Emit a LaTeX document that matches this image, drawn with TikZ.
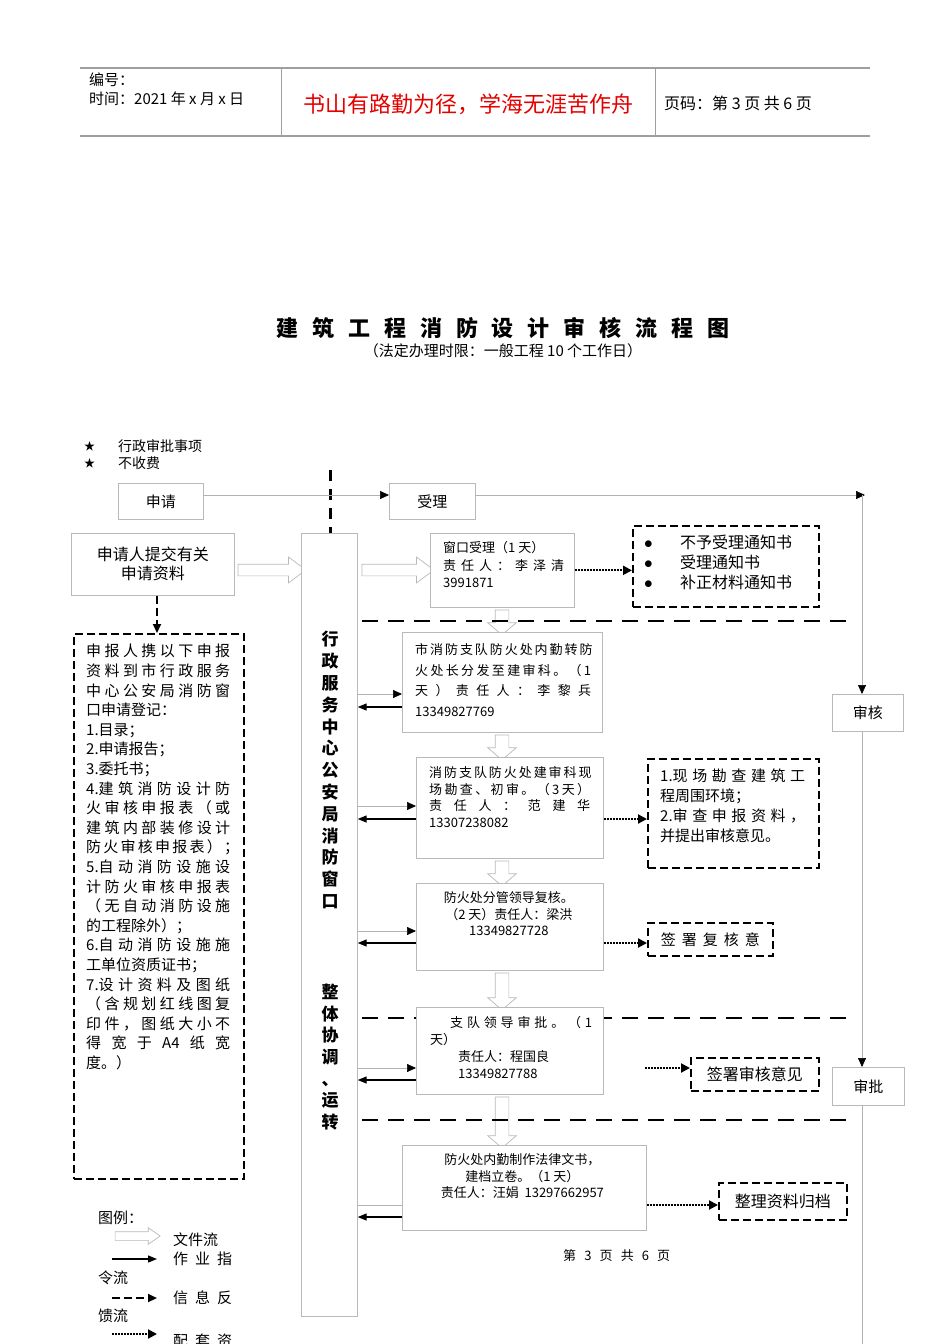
\documentclass[tikz,border=0pt]{standalone}
\usepackage{fontspec}
\setmainfont{Noto Sans CJK SC}
\usetikzlibrary{arrows.meta,shapes.arrows}

\newcommand\fsz[2]{\fontsize{#1}{#2}\selectfont}
\newcommand\jline[2]{\makebox[#1pt][s]{#2}}

\begin{document}
\begin{tikzpicture}[x=1pt,y=-1pt,>=Triangle,
  box/.style={draw=gray!55,line width=0.7pt,fill=white,inner sep=0pt,anchor=north west,font=\fsz{15}{19}},
  dashbox/.style={draw,line width=1.6pt,dash pattern=on 8pt off 4pt,fill=white,inner sep=0pt,anchor=north west,font=\fsz{16}{20}},
  boxtext/.style={anchor=north west,inner sep=0pt,align=left},
  sepline/.style={line width=2.6pt,dash pattern=on 16pt off 10pt},
  flow/.style={draw=gray!60,line width=0.7pt,-{Triangle[length=9pt,width=8pt,color=black]}},
  order/.style={line width=1.3pt,-{Triangle[length=9pt,width=7pt]}},
  feedback/.style={line width=2pt,dash pattern=on 8pt off 4pt,-{Triangle[length=9pt,width=8pt]}},
  support/.style={line width=2pt,dash pattern=on 1.8pt off 1.2pt,-{Triangle[length=9pt,width=9pt]}},
  fileright/.style={single arrow,draw=gray!55,fill=white,line width=0.7pt,inner xsep=0pt,inner ysep=5.5pt,
    single arrow head extend=7pt,single arrow tip angle=73},
  filedown/.style={fileright,rotate=-90,inner ysep=6.5pt,single arrow head extend=7.5pt,single arrow tip angle=99},
  note/.style={anchor=west,inner sep=0pt}
]
\useasboundingbox (0,0) rectangle (950,1344);

% page header
\draw[gray!75,line width=1.5pt] (80,68) -- (870,68);
\draw[gray!75,line width=1.5pt] (80,136) -- (870,136);
\draw[gray!75,line width=0.8pt] (281,68) -- (281,136) (655,68) -- (655,136);
\node[note,font=\fsz{15}{18}] (hcode) at (89,80) {编号：};
\node[note,font=\fsz{15}{18}] (hdate) at (89,99) {时间：2021 年 x 月 x 日};
\node[inner sep=0pt,font=\fsz{22}{24},text=red!90!black] (hmotto) at (468,104) {书山有路勤为径，学海无涯苦作舟};
\node[note,font=\fsz{16}{18}] (hpage) at (664,103) {页码：第 3 页 共 6 页};

% title
\node[inner sep=0pt,font=\fsz{22}{24}\bfseries] (title) at (503,328) {\jline{453}{建 筑 工 程 消 防 设 计 审 核 流 程 图}};
\node[inner sep=0pt,font=\fsz{15}{18}] (subtitle) at (503,351) {（法定办理时限：一般工程 10 个工作日）};

\node[note,font=\fsz{11}{13}] (star1) at (84,446) {★};
\node[note,font=\fsz{14}{16}] (item1) at (118,446) {行政审批事项};
\node[note,font=\fsz{11}{13}] (star2) at (84,463) {★};
\node[note,font=\fsz{14}{16}] (item2) at (118,463) {不收费};

\draw[line width=3pt,dash pattern=on 11pt off 8pt] (330,470) -- (330,533);

% top row
\node[box,minimum width=85,minimum height=36] (apply) at (118,483) {申请};
\node[box,minimum width=86,minimum height=36] (accept) at (389,483) {受理};
\node[box,minimum width=71,minimum height=37] (review) at (832,694) {审核};
\node[box,minimum width=72,minimum height=38] (approve) at (832,1067) {审批};
\coordinate (turn) at (862,495);
\coordinate (pagebottom) at (862,1344);
\draw[flow] (apply.east |- turn) -- (accept.west |- turn);
\draw[flow] (accept.east |- turn) -- ([xshift=3pt]turn);
\draw[flow] (turn) -- (turn |- review.north);
\draw[flow] (turn |- review.south) -- (turn |- approve.north);
\draw[draw=gray!60,line width=0.7pt] (turn |- approve.south) -- (pagebottom);

% file flow
\node[fileright,minimum height=68] (ff1) at (268,570) {};
\node[fileright,minimum height=72] (ff2) at (394,570) {};
\node[filedown,minimum height=25] (fd1) at (502,619.5) {};
\node[filedown,minimum height=25] (fd2) at (502,744.5) {};
\node[filedown,minimum height=25] (fd3) at (502,870.5) {};
\node[filedown,minimum height=37] (fd4) at (502,988.5) {};
\node[filedown,minimum height=51] (fd5) at (502,1119.5) {};

\draw[sepline] (362,621) -- (852,621);
\draw[sepline] (362,1018) -- (852,1018);
\draw[sepline] (362,1120) -- (852,1120);

% left side
\node[box,minimum width=163,minimum height=62,align=center,font=\fsz{16}{19}] (submit) at (71,533) {申请人提交有关\\申请资料};
\node[dashbox,minimum width=170,minimum height=545] (reqlist) at (73,633) {};
\draw[feedback] (submit.south -| 157,0) -- (reqlist.north -| 157,0);
\node[boxtext,font=\fsz{15}{19.6}] (reqtext) at (86,644) {%
\jline{144}{申 报 人 携 以 下 申 报}\\
\jline{144}{资 料 到 市 行 政 服 务}\\
\jline{144}{中 心 公 安 局 消 防 窗}\\
口申请登记：\\
1.目录；\\
2.申请报告；\\
3.委托书；\\
\jline{144}{4.建 筑 消 防 设 计 防}\\
\jline{144}{火 审 核 申 报 表 （ 或}\\
\jline{144}{建 筑 内 部 装 修 设 计}\\
\jline{144}{防 火 审 核 申 报 表 ） ；}\\
\jline{144}{5.自 动 消 防 设 施 设}\\
\jline{144}{计 防 火 审 核 申 报 表}\\
\jline{144}{（ 无 自 动 消 防 设 施}\\
的工程除外）；\\
\jline{144}{6.自 动 消 防 设 施 施}\\
工单位资质证书；\\
\jline{144}{7.设 计 资 料 及 图 纸}\\
\jline{144}{（ 含 规 划 红 线 图 复}\\
\jline{144}{印 件 ， 图 纸 大 小 不}\\
\jline{144}{得 宽 于 A4 纸 宽}\\
度。）};

% window column
\node[box,minimum width=56,minimum height=783] (window) at (301,533) {};
\node[inner sep=0pt,align=center,font=\fsz{17}{21.8}\bfseries] (coltop) at (330,770) {行\\政\\服\\务\\中\\心\\公\\安\\局\\消\\防\\窗\\口};
\node[inner sep=0pt,align=center,font=\fsz{17}{21.7}\bfseries] (colbot) at (330,1057) {整\\体\\协\\调\\、\\运\\转};

% steps
\node[box,minimum width=144,minimum height=74] (winrecv) at (430,533) {};
\node[boxtext,font=\fsz{13}{17.5}] at ([shift={(13,8.5)}]winrecv.north west) {窗口受理（1 天）\\\jline{121}{责 任 人 ： 李 泽 清}\\3991871};

\node[box,minimum width=200,minimum height=100] (transfer) at (402,632) {};
\node[boxtext,font=\fsz{13}{20.5}] at ([shift={(13,11.5)}]transfer.north west) {%
\jline{176}{市 消 防 支 队 防 火 处 内 勤 转 防}\\
\jline{176}{火 处 长 分 发 至 建 审 科 。 （ 1}\\
\jline{176}{天 ） 责 任 人 ： 李 黎 兵}\\
13349827769};

\node[box,minimum width=187,minimum height=101] (survey) at (416,757) {};
\node[boxtext,font=\fsz{13}{16.5}] at ([shift={(13,9.5)}]survey.north west) {%
\jline{161}{消 防 支 队 防 火 处 建 审 科 现}\\
\jline{161}{场 勘 查 、 初 审 。 （ 3 天 ）}\\
\jline{161}{责 任 人 ： 范 建 华}\\
13307238082};

\node[box,minimum width=187,minimum height=87] (recheck) at (416,883) {};
\node[boxtext,anchor=north,align=center,font=\fsz{13}{16.5}] at ([shift={(-1,8.5)}]recheck.north) {%
防火处分管领导复核。\\（2 天）责任人：梁洪\\13349827728};

\node[box,minimum width=187,minimum height=87] (approval) at (416,1007) {};
\node[boxtext,font=\fsz{13}{17}] at ([shift={(14,9.5)}]approval.north west) {%
\hspace*{20pt}\jline{142}{支 队 领 导 审 批 。 （ 1}\\
天）\\
\hspace*{28pt}责任人：程国良\\
\hspace*{28pt}13349827788};

\node[box,minimum width=244,minimum height=85] (filing) at (402,1145) {};
\node[boxtext,anchor=north,align=center,font=\fsz{13}{16.5}] at ([shift={(-2,8.5)}]filing.north) {%
防火处内勤制作法律文书，\\建档立卷。（1 天）\\责任人：汪娟\ \ 13297662957};

% column to steps
\draw[flow] (window.east |- 0,694) -- (transfer.west |- 0,694);
\draw[order] (transfer.west |- 0,707) -- (window.east |- 0,707);
\draw[flow] (window.east |- 0,806) -- (survey.west |- 0,806);
\draw[order] (survey.west |- 0,819) -- (window.east |- 0,819);
\draw[flow] (window.east |- 0,931) -- (recheck.west |- 0,931);
\draw[order] (recheck.west |- 0,943) -- (window.east |- 0,943);
\draw[flow] (window.east |- 0,1068) -- (approval.west |- 0,1068);
\draw[order] (approval.west |- 0,1080) -- (window.east |- 0,1080);
\draw[draw=gray!60,line width=0.7pt] (window.east |- 0,1205) -- (filing.west |- 0,1205);
\draw[order] (filing.west |- 0,1217) -- (window.east |- 0,1217);

% results
\node[dashbox,minimum width=186,minimum height=81] (notice) at (632,525) {};
\node[boxtext,font=\fsz{16}{20}] at ([shift={(12,10)}]notice.north west) {%
\makebox[36pt][l]{$\bullet$}不予受理通知书\\
\makebox[36pt][l]{$\bullet$}受理通知书\\
\makebox[36pt][l]{$\bullet$}补正材料通知书};
\node[dashbox,minimum width=171,minimum height=109] (fieldcheck) at (647,758) {};
\node[boxtext,font=\fsz{15}{20}] at ([shift={(13,10.5)}]fieldcheck.north west) {%
\jline{145}{1.现 场 勘 查 建 筑 工}\\
程周围环境；\\
\jline{145}{2.审 查 申 报 资 料 ，}\\
并提出审核意见。};
\node[dashbox,minimum width=125,minimum height=33,font=\fsz{15}{18}] (signcheck) at (647,922) {\jline{99}{签 署 复 核 意}};
\node[dashbox,minimum width=128,minimum height=33] (signapprove) at (690,1057) {签署审核意见};
\node[dashbox,minimum width=128,minimum height=37] (archive) at (718,1182) {整理资料归档};
\coordinate (apvout) at (645,1068);

\draw[support] (winrecv.east) -- (winrecv.east -| notice.west);
\draw[support] (survey.east |- 0,819) -- (fieldcheck.west |- 0,819);
\draw[support] (recheck.east |- 0,943) -- (signcheck.west |- 0,943);
\draw[support] (apvout) -- (apvout -| signapprove.west);
\draw[support] (filing.east |- 0,1205) -- (archive.west |- 0,1205);

% legend
\node[note,font=\fsz{15}{18}] (lgtitle) at (98,1218) {图例：};
\node[fileright,minimum height=45,inner ysep=4pt,single arrow head extend=4pt,single arrow tip angle=70] (lgfile) at (134.5,1236) {};
\node[note,font=\fsz{15}{18}] (lgfiletext) at (173,1240) {文件流};
\coordinate (lgorder) at (112,1259);
\draw[order] (lgorder) -- ++(45,0);
\node[note,font=\fsz{15}{18}] (lgordertext) at (173,1259) {\jline{59}{作 业 指}};
\node[note,font=\fsz{15}{18}] (lgordertext2) at (98,1278) {令流};
\coordinate (lgfeed) at (112,1298);
\draw[feedback] (lgfeed) -- ++(45,0);
\node[note,font=\fsz{15}{18}] (lgfeedtext) at (173,1298) {\jline{59}{信 息 反}};
\node[note,font=\fsz{15}{18}] (lgfeedtext2) at (98,1316) {馈流};
\coordinate (lgsupport) at (112,1334);
\draw[support] (lgsupport) -- ++(45,0);
\node[note,font=\fsz{15}{18}] (lgsupporttext) at (173,1341) {\jline{59}{配 套 资}};

\node[note,font=\fsz{13}{15}] (pagefoot) at (563,1256) {\jline{107}{第 3 页 共 6 页}};
\end{tikzpicture}
\end{document}
